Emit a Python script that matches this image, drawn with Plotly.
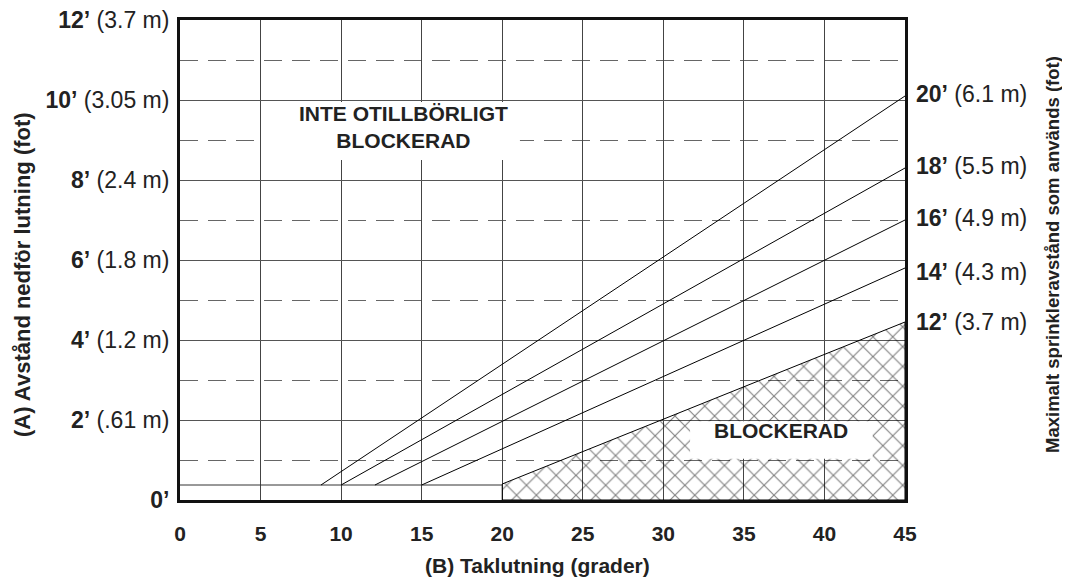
import plotly.graph_objects as go

# ---- data ----
x_ticks = [0, 5, 10, 15, 20, 25, 30, 35, 40, 45]
y_ticks = [0, 2, 4, 6, 8, 10, 12]
y_tick_labels = ["<b>0’</b>", "<b>2’</b> (.61 m)", "<b>4’</b> (1.2 m)", "<b>6’</b> (1.8 m)",
                 "<b>8’</b> (2.4 m)", "<b>10’</b> (3.05 m)", "<b>12’</b> (3.7 m)"]

base_ft = 0.375                       # starting level of the spacing lines
line_start_deg = [8.75, 10.0, 12.1, 15.0]
line_end_ft = [10.1, 8.3, 7.0, 5.8]   # value at 45 degrees
blocked_start = [20.0, 0.4]
blocked_end_ft = 4.45

right_tick_vals = [10.15, 8.35, 7.05, 5.7, 4.45]
right_tick_labels = ["<b>20’</b> (6.1 m)", "<b>18’</b> (5.5 m)", "<b>16’</b> (4.9 m)",
                     "<b>14’</b> (4.3 m)", "<b>12’</b> (3.7 m)"]

FONT = "Liberation Sans, Arial, sans-serif"
TXT = "#222222"

fig = go.Figure()

# blocked (hatched) region
fig.add_trace(go.Scatter(
    x=[blocked_start[0], 45, 45, blocked_start[0], blocked_start[0]],
    y=[0, 0, blocked_end_ft, blocked_start[1], 0],
    mode="lines", fill="toself",
    line=dict(color="black", width=1),
    fillcolor="rgba(0,0,0,0)",
    fillpattern=dict(shape="x", size=14, solidity=0.15, fgcolor="#000000",
                     bgcolor="rgba(0,0,0,0)", fillmode="overlay"),
    hoverinfo="skip", showlegend=False))

# baseline level from 0 to 20 degrees
fig.add_trace(go.Scatter(x=[0, blocked_start[0]], y=[base_ft, base_ft], mode="lines",
                         line=dict(color="#333333", width=1), showlegend=False, hoverinfo="skip"))

# spacing lines
for xs, ye in zip(line_start_deg, line_end_ft):
    fig.add_trace(go.Scatter(x=[xs, 45], y=[base_ft, ye], mode="lines",
                             line=dict(color="black", width=1), showlegend=False, hoverinfo="skip"))

# invisible trace for right axis
fig.add_trace(go.Scatter(x=[45], y=[5], yaxis="y2", mode="markers",
                         marker=dict(opacity=0), showlegend=False, hoverinfo="skip"))

# white label boxes
fig.add_shape(type="rect", x0=5.06, x1=21.1, y0=8.5, y1=9.95, xref="x", yref="y",
              fillcolor="white", line=dict(width=0), layer="above")
fig.add_shape(type="rect", x0=31.66, x1=43.0, y0=1.03, y1=1.97, xref="x", yref="y",
              fillcolor="white", line=dict(width=0), layer="above")

fig.add_annotation(x=13.85, y=9.33, text="<b>INTE OTILLBÖRLIGT<br>BLOCKERAD</b>", showarrow=False,
                   font=dict(family=FONT, size=21, color=TXT))
fig.add_annotation(x=37.3, y=1.75, text="<b>BLOCKERAD</b>", showarrow=False,
                   font=dict(family=FONT, size=21, color=TXT))

# axis titles
fig.add_annotation(xref="paper", yref="paper", x=(22 - 180) / 725, y=(500 - 275) / 480,
                   xanchor="center", yanchor="middle", textangle=-90,
                   text="<b>(A) Avstånd nedför lutning (fot)</b>", showarrow=False,
                   font=dict(family=FONT, size=22, color=TXT))
fig.add_annotation(xref="paper", yref="paper", x=(1052 - 180) / 725, y=(500 - 255) / 480,
                   xanchor="center", yanchor="middle", textangle=-90,
                   text="<b>Maximalt sprinkleravstånd som används (fot)</b>", showarrow=False,
                   font=dict(family=FONT, size=18.5, color=TXT))
fig.add_annotation(xref="paper", yref="paper", x=(537 - 180) / 725, y=(500 - 565) / 480,
                   xanchor="center", yanchor="middle",
                   text="<b>(B) Taklutning (grader)</b>", showarrow=False,
                   font=dict(family=FONT, size=21, color=TXT))

fig.update_layout(
    width=1062, height=571, autosize=False,
    margin=dict(l=172, r=165, t=12, b=79, autoexpand=False),
    paper_bgcolor="white", plot_bgcolor="white",
    font=dict(family=FONT, color=TXT),
    xaxis=dict(range=[0, 45], tickvals=x_ticks, ticktext=[f"<b>{v}</b>" for v in x_ticks],
               showgrid=True, gridcolor="#444444", gridwidth=1, zeroline=False,
               showline=True, linecolor="#111111", linewidth=3, mirror=True,
               ticks="", ticklabelstandoff=13, automargin=False, ticklabeloverflow="allow",
               tickfont=dict(family=FONT, size=21, color=TXT)),
    yaxis=dict(range=[0, 12], tickvals=y_ticks, ticktext=y_tick_labels,
               showgrid=True, gridcolor="#555555", gridwidth=1, zeroline=False,
               showline=True, linecolor="#111111", linewidth=3, mirror=True,
               ticks="", ticklabelstandoff=3, automargin=False, ticklabeloverflow="allow",
               minor=dict(dtick=1, showgrid=True, griddash="18px,10px",
                          gridcolor="#666666", gridwidth=1),
               tickfont=dict(family=FONT, size=23, color=TXT)),
    yaxis2=dict(range=[0, 12], overlaying="y", side="right", tickvals=right_tick_vals,
                ticktext=right_tick_labels, showgrid=False, zeroline=False, showline=False,
                ticks="", ticklabelstandoff=10, automargin=False, ticklabeloverflow="allow",
                tickfont=dict(family=FONT, size=23, color=TXT)),
)

fig.write_html("out.html")
